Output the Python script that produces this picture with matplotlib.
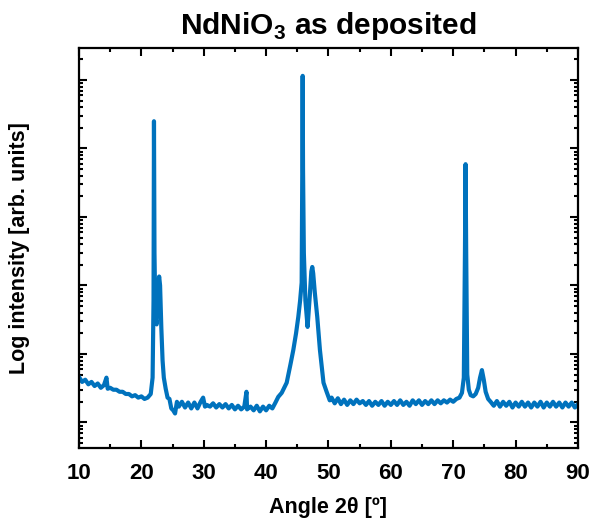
import numpy as np
import matplotlib
matplotlib.use('Agg')
import matplotlib.pyplot as plt
from matplotlib.ticker import LogLocator, NullFormatter, MultipleLocator

plt.rcParams['font.family'] = ['Liberation Sans', 'DejaVu Sans']
plt.rcParams['mathtext.fontset'] = 'custom'
plt.rcParams['mathtext.rm'] = 'Liberation Sans'
plt.rcParams['mathtext.bf'] = 'Liberation Sans:bold'

# XRD scan: angle 2theta (deg) and intensity (counts)
angle = [
    10.0, 10.5, 11.0, 11.5, 12.0, 12.5, 13.0, 13.5, 14.0, 14.4, 14.6, 15.0,
    15.5, 16.0, 16.5, 17.0, 17.5, 18.0, 18.5, 19.0, 19.5, 20.0, 20.5, 21.0,
    21.5, 21.8, 21.95, 22.02, 22.1, 22.25, 22.45, 22.65, 22.85, 23.0, 23.2,
    23.4, 23.6, 23.9, 24.2, 24.5, 24.8, 25.1, 25.4, 25.7, 26.0, 26.5, 27.0,
    27.5, 28.0, 28.5, 29.0, 29.5, 29.9, 30.2, 30.5, 31.0, 31.5, 32.0, 32.5,
    33.0, 33.5, 34.0, 34.5, 35.0, 35.5, 36.0, 36.5, 36.85, 36.95, 37.5, 38.0,
    38.5, 39.0, 39.5, 40.0, 40.5, 41.0, 41.5, 41.95, 42.5, 43.3, 43.9, 44.36,
    44.8, 45.16, 45.45, 45.7, 45.8, 45.86, 45.92, 46.05, 46.3, 46.65, 47.0,
    47.25, 47.4, 47.55, 47.8, 48.2, 48.63, 49.2, 49.7, 50.2, 50.5, 51.0, 51.5,
    52.0, 52.5, 53.0, 53.5, 54.0, 54.5, 55.0, 55.5, 56.0, 56.5, 57.0, 57.5,
    58.0, 58.5, 59.0, 59.5, 60.0, 60.5, 61.0, 61.5, 62.0, 62.5, 63.0, 63.5,
    64.0, 64.5, 65.0, 65.5, 66.0, 66.5, 67.0, 67.5, 68.0, 68.5, 69.0, 69.5,
    70.0, 70.5, 71.0, 71.4, 71.7, 71.88, 71.98, 72.08, 72.25, 72.5, 72.8,
    73.2, 73.6, 74.0, 74.3, 74.6, 74.9, 75.2, 75.6, 76.0, 76.5, 77.0, 77.5,
    78.0, 78.5, 79.0, 79.5, 80.0, 80.5, 81.0, 81.5, 82.0, 82.5, 83.0, 83.5,
    84.0, 84.5, 85.0, 85.5, 86.0, 86.5, 87.0, 87.5, 88.0, 88.5, 89.0, 89.5,
    90.0,
]
intensity = [
    46, 39, 42, 36, 39, 34, 37, 32, 35, 45, 31, 32,
    30, 30, 28, 28, 26, 26, 24, 25, 23, 24, 22, 23,
    26, 45, 600, 250000, 3000, 350, 270, 900, 1350, 1000, 240,
    80, 45, 31, 23, 22, 16, 15, 13.5, 20, 17, 20, 16.5,
    19.5, 16, 19.5, 16, 20, 23, 17, 18, 17, 19, 16.5, 18.5,
    16.5, 18.5, 16, 18, 15.5, 17.5, 15.5, 17, 28, 15.5, 17, 15,
    17.5, 14.5, 17, 15, 17.5, 16, 19.5, 23.6, 27, 38, 70, 114,
    200, 347, 600, 1100, 50000, 1150000, 50000, 3000, 600, 248, 700,
    1600, 1860, 1500, 800, 347, 114, 38, 28, 21, 23, 19, 22.5,
    18.5, 21.5, 18, 21, 18.5, 21.5, 19, 20.5, 18, 20.5, 17.5, 20,
    18, 20.5, 17.5, 20, 18, 20.5, 18, 21, 18, 20, 17.5, 21,
    18.5, 21, 18, 20.5, 18.5, 21, 18.5, 21, 19, 21, 19.5, 21.5,
    20, 22, 23, 27, 45, 3000, 59000, 3000, 50, 30, 25,
    24, 26, 32, 45, 58, 42, 28, 22, 20, 17.5, 20.5, 17,
    20, 17.5, 20, 16.5, 19.5, 17, 20, 17, 19.5, 16.5, 19.5, 17,
    20, 16.5, 19.5, 17, 20, 17, 19.5, 16.5, 19.5, 17, 19.5, 16.5,
    18.5,
]

fig = plt.figure(figsize=(5.94, 5.22), dpi=100)
ax = fig.add_axes([0.133, 0.142, 0.840, 0.766])
ax.plot(angle, intensity, color='#0072BD', lw=3.0)

ax.set_yscale('log')
ax.set_xlim(10, 90)
ax.set_ylim(10 ** 0.628, 10 ** 6.467)
ax.xaxis.set_major_locator(MultipleLocator(10))
ax.xaxis.set_minor_locator(MultipleLocator(5))
ax.yaxis.set_major_locator(LogLocator(base=10, numticks=20))
ax.yaxis.set_minor_locator(LogLocator(base=10, subs=np.arange(2, 10), numticks=20))
ax.yaxis.set_major_formatter(NullFormatter())
ax.yaxis.set_minor_formatter(NullFormatter())

ax.tick_params(which='both', direction='in', top=True, right=True, width=1.5)
ax.tick_params(which='major', length=6, labelsize=16, pad=11)
ax.tick_params(which='minor', length=3)
for lab in ax.get_xticklabels():
    lab.set_fontweight('bold')
for s in ax.spines.values():
    s.set_linewidth(1.6)

ax.set_xlabel('Angle 2θ [º]', fontsize=15.5, fontweight='bold', labelpad=9)
ax.set_ylabel('Log intensity [arb. units]', fontsize=15.5, fontweight='bold', labelpad=24)
ax.set_title(r'NdNiO$_\mathbf{3}$ as deposited', fontsize=21.5, fontweight='bold', pad=10)

fig.savefig('out.png', dpi=100)
